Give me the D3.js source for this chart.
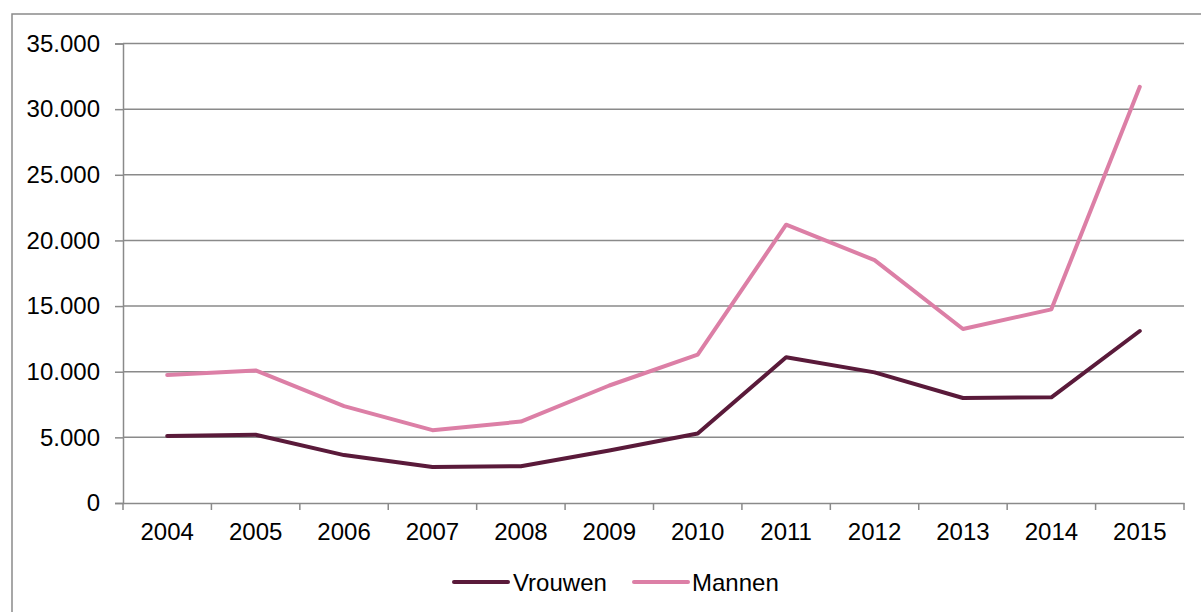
<!DOCTYPE html>
<html><head><meta charset="utf-8">
<script src="https://cdn.jsdelivr.net/npm/d3@7"></script>
<style>body{margin:0;background:#fff}svg{display:block}text{font-family:"Liberation Sans",Arial,sans-serif;fill:#000}</style>
</head><body><svg id="c" width="1201" height="612"></svg>
<script>
const years = ["2004","2005","2006","2007","2008","2009","2010","2011","2012","2013","2014","2015"];
const vrouwen = [5100, 5200, 3650, 2750, 2800, 4000, 5300, 11100, 9950, 8000, 8050, 13100];
const mannen = [9750, 10100, 7380, 5550, 6200, 8950, 11300, 21200, 18500, 13250, 14750, 31700];
const yTicks = [0, 5000, 10000, 15000, 20000, 25000, 30000, 35000];
const seriesNames = ["Vrouwen", "Mannen"];
const seriesColors = ["#5a1a3a", "#dc7fa6"];

const svg = d3.select("#c");
const L = 123, R = 1184, T = 43.5, B = 503;
const grid = "#8a8a8a";
const FS = "24px";
svg.append("rect").attr("x",12).attr("y",14).attr("width",1200).attr("height",610)
  .attr("fill","none").attr("stroke",grid).attr("stroke-width",1.5);

const x = d3.scaleBand().domain(years).range([L, R]).padding(0);
const y = d3.scaleLinear().domain([0, 35000]).range([B, T]);
const fmt = v => v === 0 ? "0" : d3.format(",")(v).replace(/,/g, ".");

// gridlines
svg.append("g").selectAll("line").data(yTicks.filter(d=>d>0)).join("line")
  .attr("x1", L).attr("x2", R).attr("y1", d=>y(d)).attr("y2", d=>y(d))
  .attr("stroke", grid).attr("stroke-width", 1.5);

// y axis
const ya = svg.append("g").attr("transform",`translate(${L},0)`)
  .call(d3.axisLeft(y).tickValues(yTicks).tickFormat(fmt).tickSize(8).tickPadding(15));
ya.select(".domain").attr("stroke", grid).attr("stroke-width",1.5);
ya.selectAll(".tick line").attr("stroke", grid).attr("stroke-width",1.5);
ya.selectAll("text").attr("font-size",FS).attr("font-family","Liberation Sans, Arial, sans-serif").attr("fill","#000");

// x axis
const xa = svg.append("g").attr("transform",`translate(0,${B})`)
  .call(d3.axisBottom(x).tickSize(0).tickPadding(20));
xa.select(".domain").attr("stroke", grid).attr("stroke-width",1.5);
xa.selectAll("text").attr("font-size",FS).attr("font-family","Liberation Sans, Arial, sans-serif").attr("fill","#000");
// boundary ticks
const bounds = years.map(d=>x(d)).concat([R]);
svg.append("g").selectAll("line").data(bounds).join("line")
  .attr("x1", d=>d).attr("x2", d=>d).attr("y1", B).attr("y2", B+7)
  .attr("stroke", grid).attr("stroke-width",1.5);

const line = d3.line().x((d,i)=>x(years[i]) + x.bandwidth()/2).y(d=>y(d));
[vrouwen, mannen].forEach((s,k)=>{
  svg.append("path").datum(s).attr("d", line).attr("fill","none")
    .attr("stroke", seriesColors[k]).attr("stroke-width",4)
    .attr("stroke-linejoin","round").attr("stroke-linecap","round");
});

// legend
const lg = [{x:454, t:513},{x:634, t:692}];
seriesNames.forEach((n,k)=>{
  svg.append("line").attr("x1",lg[k].x).attr("x2",lg[k].x+54).attr("y1",582).attr("y2",582)
    .attr("stroke",seriesColors[k]).attr("stroke-width",4).attr("stroke-linecap","round");
  svg.append("text").attr("x",lg[k].t).attr("y",591).attr("font-size",FS).text(n);
});
</script></body></html>
